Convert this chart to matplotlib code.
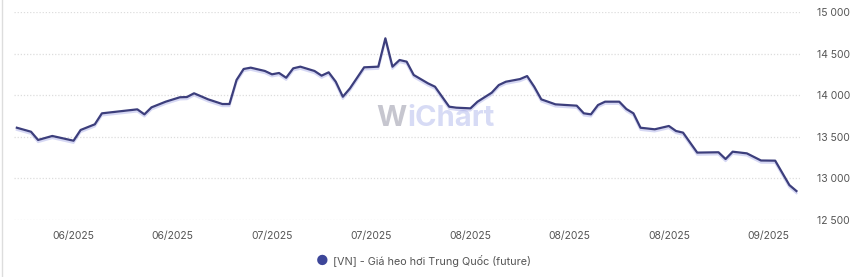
import matplotlib
matplotlib.use("Agg")
import matplotlib.pyplot as plt
import matplotlib.dates as mdates
import matplotlib.patheffects as pe
from matplotlib.ticker import FuncFormatter
from matplotlib.lines import Line2D
import pandas as pd

# Giá heo hơi Trung Quốc (future)
ngay = [
    "2025-05-29", "2025-05-31", "2025-06-01", "2025-06-03", "2025-06-06",
    "2025-06-07", "2025-06-09", "2025-06-10", "2025-06-15", "2025-06-16",
    "2025-06-17", "2025-06-19", "2025-06-21", "2025-06-22", "2025-06-23",
    "2025-06-25", "2025-06-27", "2025-06-28", "2025-06-29", "2025-06-30",
    "2025-07-01", "2025-07-03", "2025-07-04", "2025-07-05", "2025-07-06",
    "2025-07-07", "2025-07-08", "2025-07-10", "2025-07-11", "2025-07-12",
    "2025-07-13", "2025-07-14", "2025-07-15", "2025-07-17", "2025-07-19",
    "2025-07-20", "2025-07-21", "2025-07-22", "2025-07-23", "2025-07-24",
    "2025-07-26", "2025-07-27", "2025-07-29", "2025-07-30", "2025-08-01",
    "2025-08-02", "2025-08-04", "2025-08-05", "2025-08-06", "2025-08-08",
    "2025-08-09", "2025-08-10", "2025-08-11", "2025-08-13", "2025-08-16",
    "2025-08-17", "2025-08-18", "2025-08-19", "2025-08-20", "2025-08-22",
    "2025-08-23", "2025-08-24", "2025-08-25", "2025-08-27", "2025-08-29",
    "2025-08-30", "2025-08-31", "2025-09-02", "2025-09-05", "2025-09-06",
    "2025-09-07", "2025-09-09", "2025-09-11", "2025-09-13", "2025-09-15",
    "2025-09-16",
]
gia = [
    13609, 13561, 13462, 13510, 13453,
    13582, 13650, 13782, 13830, 13770,
    13854, 13922, 13975, 13978, 14023,
    13950, 13894, 13894, 14183, 14315,
    14331, 14291, 14251, 14267, 14210,
    14323, 14343, 14291, 14235, 14275,
    14162, 13982, 14082, 14335, 14343,
    14684, 14343, 14423, 14403, 14243,
    14143, 14102, 13862, 13850, 13842,
    13922, 14030, 14122, 14162, 14194,
    14230, 14102, 13950, 13890, 13874,
    13782, 13770, 13882, 13922, 13922,
    13834, 13782, 13609, 13590, 13630,
    13570, 13550, 13310, 13314, 13233,
    13321, 13301, 13215, 13213, 12920,
    12848,
]
moc_ngay = ["2025-06-06", "2025-06-20", "2025-07-04", "2025-07-18",
            "2025-08-01", "2025-08-15", "2025-08-29", "2025-09-12"]
moc_gia = [12500, 13000, 13500, 14000, 14500, 15000]
ten_chuoi = "[VN] - Giá heo hơi Trung Quốc (future)"

plt.rcParams['font.family'] = ['Inter', 'DejaVu Sans']

x = pd.to_datetime(ngay)
fig = plt.figure(figsize=(8.59, 2.77), dpi=100)
ax = fig.add_axes([14 / 859, 57 / 277, 786 / 859, 208 / 277])

mau_duong = '#3c3e7c'
ax.plot(x, gia, color=mau_duong, linewidth=1.6, solid_joinstyle='round',
        path_effects=[pe.SimpleLineShadow(offset=(0, -1.5), shadow_color='#8c90e0', alpha=0.35),
                      pe.Normal()])

goc = pd.Timestamp("2025-06-06")
ax.set_xlim(goc - pd.Timedelta(days=8.4), goc + pd.Timedelta(days=102.5))
ax.set_ylim(12500, 15000)

ax.set_xticks(pd.to_datetime(moc_ngay))
ax.xaxis.set_major_formatter(mdates.DateFormatter('%m/%Y'))
ax.set_yticks(moc_gia)
ax.yaxis.set_major_formatter(FuncFormatter(lambda v, p: f"{int(v):,}".replace(",", " ")))
ax.yaxis.tick_right()

ax.tick_params(axis='both', length=0, labelsize=7.5, labelcolor='#555555')
ax.tick_params(axis='x', pad=8)
ax.tick_params(axis='y', pad=12)
for s in ax.spines.values():
    s.set_visible(False)
ax.grid(axis='y', color='#dddddd', linestyle=(0, (1, 1.5)), linewidth=0.9)
ax.set_axisbelow(True)

# watermark
ax.text(0.5, 0.49, "W", transform=ax.transAxes, fontsize=21, fontweight='bold',
        color='#c6c6cf', ha='right', va='center', zorder=0)
ax.text(0.5, 0.49, "iChart", transform=ax.transAxes, fontsize=21, fontweight='bold',
        color='#d7dbf5', ha='left', va='center', zorder=0)

# legend
fig.text(322 / 859, 1 - 261 / 277, "●", color='#3d4699', fontsize=10, ha='center', va='center')
fig.text(333 / 859, 1 - 261 / 277, ten_chuoi, color='#555555', fontsize=7.8, ha='left', va='center')

fig.add_artist(Line2D([2 / 859, 2 / 859], [0, 1], color='#dddddd', linewidth=1))

fig.savefig("out.png", dpi=100)
